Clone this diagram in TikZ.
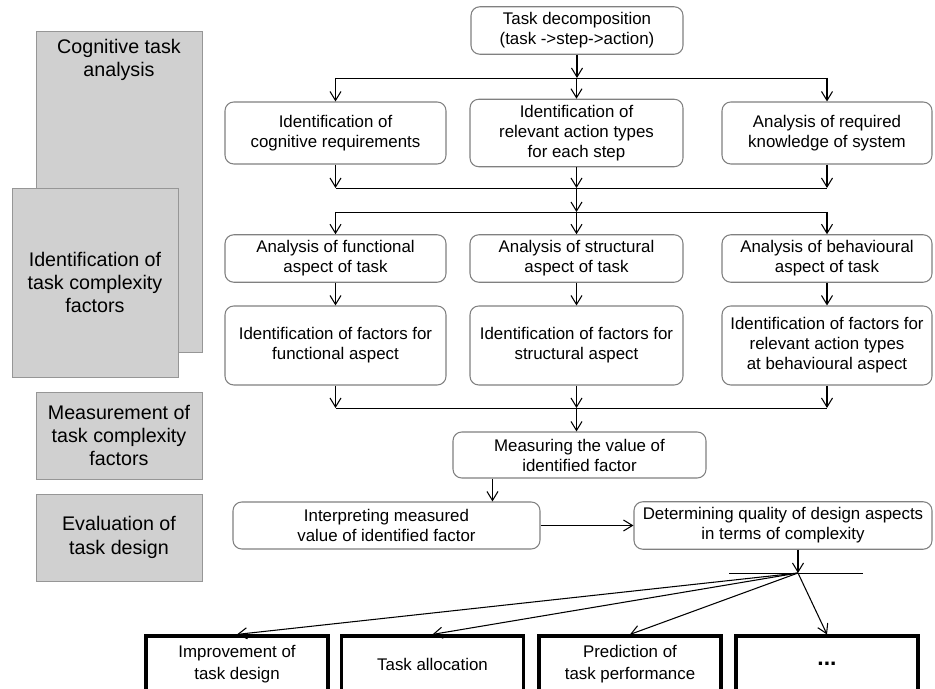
\documentclass[tikz,border=0pt]{standalone}
\usepackage{fontspec}
\setmainfont{Liberation Sans}
\usetikzlibrary{arrows.meta, positioning, calc}
\definecolor{lgray}{RGB}{208,208,208}
\definecolor{egray}{RGB}{150,150,150}
\definecolor{bgray}{RGB}{128,128,128}

\begin{document}
\begin{tikzpicture}[
  gbox/.style={draw=egray, fill=lgray, minimum width=3.32cm, align=center,
               font=\fontsize{11.2}{13.3}\selectfont, inner sep=0pt},
  rbox/.style={draw=bgray, rounded corners=5pt, align=center, line width=0.6pt,
               font=\fontsize{9.6}{11.4}\selectfont, minimum height=0.94cm},
  obox/.style={draw, line width=1.8pt, align=center, minimum width=3.64cm,
               minimum height=1.12cm, font=\fontsize{9.6}{12.5}\selectfont},
  arr/.style={-{Straight Barb[length=1.8mm,width=2.2mm]}, line width=0.6pt}
]
\clip (0,0) rectangle (18.7,-13.78);
% phases on the left
\node[gbox, minimum height=6.42cm] (cta) at (2.38,-3.83) {};
\node[font=\fontsize{11.2}{13.3}\selectfont, align=center, below=0.05cm of cta.north] (ctat) {Cognitive task\\analysis};
\node[gbox, minimum height=3.78cm] (itc) at (1.90,-5.65) {Identification of\\task complexity\\factors};
\node[gbox, minimum height=1.74cm] (mtc) at (2.38,-8.71) {Measurement of\\task complexity\\factors};
\node[gbox, minimum height=1.74cm] (etd) at (2.38,-10.75) {Evaluation of\\task design};

% task analysis
\node[rbox, minimum width=4.24cm] (td) at (11.54,-0.61) {Task decomposition\\(task ->step->action)};
\node[rbox, minimum width=4.42cm, minimum height=1.24cm] (icr) at (6.71,-2.66) {Identification of\\cognitive requirements};
\node[rbox, minimum width=4.26cm, minimum height=1.24cm] (iat) at (11.53,-2.66) {Identification of\\relevant action types\\for each step};
\node[rbox, minimum width=4.20cm, minimum height=1.24cm] (ark) at (16.54,-2.66) {Analysis of required\\knowledge of system};
\node[rbox, minimum width=4.42cm] (afa) at (6.71,-5.17) {Analysis of functional\\aspect of task};
\node[rbox, minimum width=4.26cm] (asa) at (11.53,-5.17) {Analysis of structural\\aspect of task};
\node[rbox, minimum width=4.20cm] (aba) at (16.54,-5.17) {Analysis of behavioural\\aspect of task};
\node[rbox, minimum width=4.42cm, minimum height=1.58cm] (iff) at (6.71,-6.91) {Identification of factors for\\functional aspect};
\node[rbox, minimum width=4.26cm, minimum height=1.58cm] (ifs) at (11.53,-6.91) {Identification of factors for\\structural aspect};
\node[rbox, minimum width=4.20cm, minimum height=1.58cm] (ifb) at (16.54,-6.91) {Identification of factors for\\relevant action types\\at behavioural aspect};
\node[rbox, minimum width=5.06cm, minimum height=0.92cm] (meas) at (11.59,-9.10) {Measuring the value of\\identified factor};
\node[rbox, minimum width=6.14cm] (interp) at (7.73,-10.51) {Interpreting measured\\value of identified factor};
\node[rbox, minimum width=5.96cm] (det) at (15.66,-10.51) {Determining quality of design aspects\\in terms of complexity};

% applications
\node[obox] (itd) at (4.74,-13.28) {Improvement of\\task design};
\node[obox] (tal) at (8.65,-13.28) {Task allocation};
\node[obox] (ptp) at (12.60,-13.28) {Prediction of\\task performance};
\node[obox, font=\fontsize{13}{13}\selectfont\bfseries] (more) at (16.54,-13.28) {...};

% bus levels
\coordinate (b1) at (0,-1.56);
\coordinate (b2) at (0,-3.76);
\coordinate (b3) at (0,-4.24);
\coordinate (b4) at (0,-8.16);
\coordinate (hub) at (15.96,-11.46);
\coordinate (hl) at (14.58,-11.46);
\coordinate (hr) at (17.26,-11.46);
\coordinate (m1) at ([xshift=0.8cm]meas.south west);

\draw[arr] (td) -- (td |- b1);
\draw (icr |- b1) -- (ark |- b1);
\foreach \n in {icr,iat,ark} \draw[arr] (\n |- b1) -- (\n);
\foreach \n in {icr,iat,ark} \draw[arr] (\n) -- (\n |- b2);
\draw (icr |- b2) -- (ark |- b2);
\draw[arr] (iat |- b2) -- (iat |- b3);
\draw (afa |- b3) -- (aba |- b3);
\foreach \n in {afa,asa,aba} \draw[arr] (\n |- b3) -- (\n);
\draw[arr] (afa) -- (iff); \draw[arr] (asa) -- (ifs); \draw[arr] (aba) -- (ifb);
\foreach \n in {iff,ifs,ifb} \draw[arr] (\n) -- (\n |- b4);
\draw (iff |- b4) -- (ifb |- b4);
\draw[arr] (ifs |- b4) -- (ifs |- meas.north);
\draw[arr] (m1) -- (m1 |- interp.north);
\draw[arr] (interp) -- (det);
\draw[arr] (det.south -| hub) -- (hub);
\draw (hl) -- (hr);
\foreach \n in {itd,tal,ptp,more} \draw[arr] (hub) -- (\n.north);
\end{tikzpicture}
\end{document}
